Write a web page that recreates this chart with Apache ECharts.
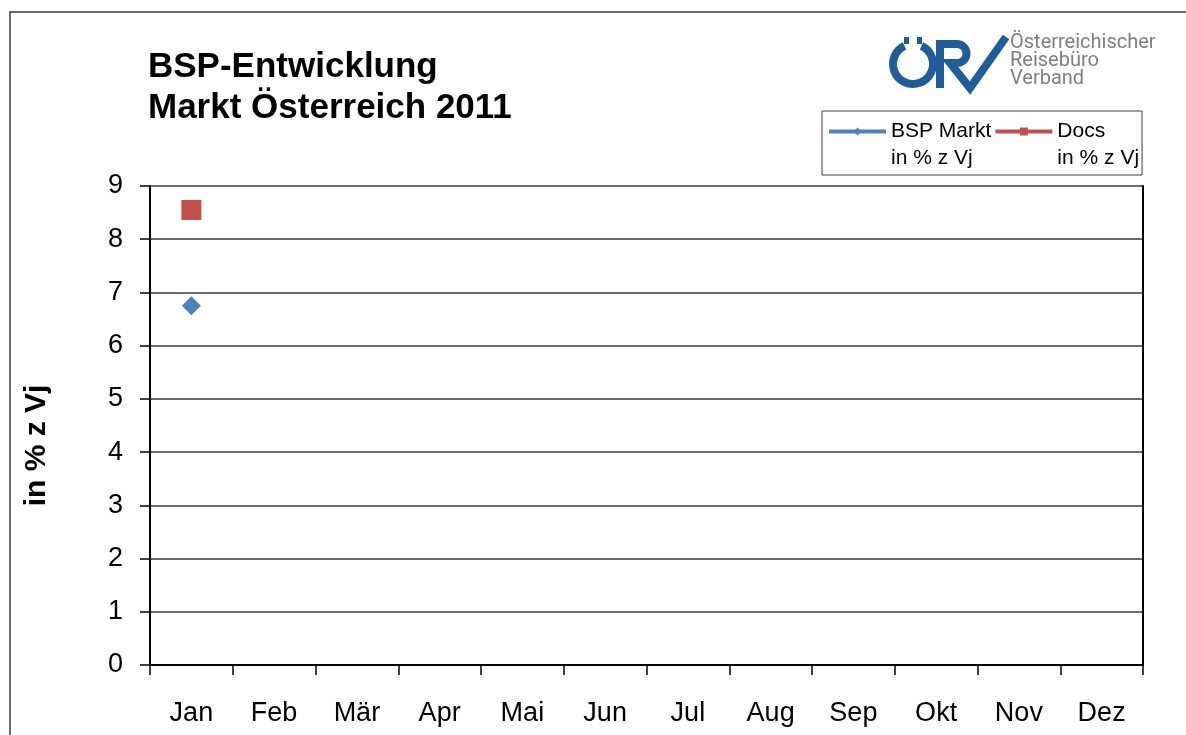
<!DOCTYPE html>
<html>
<head>
<meta charset="utf-8">
<script src="https://cdn.jsdelivr.net/npm/echarts@6/dist/echarts.min.js"></script>
<style>
  html, body {margin: 0; padding: 0; background: #fff;}
  #chart {width: 1186px; height: 735px;}
</style>
</head>
<body>
<div id="chart"></div>
<script>
// data
const months = ['Jan', 'Feb', 'Mär', 'Apr', 'Mai', 'Jun', 'Jul', 'Aug', 'Sep', 'Okt', 'Nov', 'Dez'];
const bspMarkt = [6.75, null, null, null, null, null, null, null, null, null, null, null];
const docs = [8.55, null, null, null, null, null, null, null, null, null, null, null];
const yTicks = [0, 1, 2, 3, 4, 5, 6, 7, 8, 9];

const blue = '#4f81bd';
const red = '#c0504d';
const logoBlue = '#1f5c9a';
const font = 'Liberation Sans, Arial, sans-serif';

const chart = echarts.init(document.getElementById('chart'));

const option = {
    animation: false,
    backgroundColor: '#fff',
    textStyle: {fontFamily: font},
    grid: {left: 150, right: 43, top: 186, bottom: 70},
    legend: {
        left: 822,
        top: 111,
        orient: 'horizontal',
        padding: [-17, 3, 6, 5],
        borderColor: '#404040',
        borderWidth: 1,
        itemWidth: 57,
        itemHeight: 10,
        itemGap: 2,
        lineStyle: {width: 4},
        // empty first row keeps the icon level with the first text row
        formatter: name => '{e| }\n{a|' + name.split('\n').join('}\n{a|') + '}',
        textStyle: {
            color: '#000', fontFamily: font,
            rich: {
                a: {fontSize: 21, lineHeight: 27, color: '#000', fontFamily: font},
                e: {fontSize: 21, lineHeight: 27}
            }
        },
        data: ['BSP Markt\nin % z Vj', 'Docs\nin % z Vj']
    },
    xAxis: {
        type: 'category',
        data: months,
        boundaryGap: true,
        axisLine: {lineStyle: {color: '#000', width: 2}},
        axisTick: {show: true, length: 10, lineStyle: {color: '#000', width: 1.5}},
        axisLabel: {fontSize: 27, color: '#000', margin: 35, fontFamily: font},
        splitLine: {show: false}
    },
    yAxis: [{
        type: 'value',
        min: yTicks[0],
        max: yTicks[yTicks.length - 1],
        interval: 1,
        name: 'in % z Vj',
        nameLocation: 'middle',
        nameGap: 98,
        nameRotate: 90,
        nameTextStyle: {fontSize: 30, fontWeight: 'bold', color: '#000', fontFamily: font, padding: [0, 40, 0, 0]},
        axisLine: {show: true, lineStyle: {color: '#000', width: 2}},
        axisTick: {show: true, length: 10, lineStyle: {color: '#000', width: 1.5}},
        axisLabel: {fontSize: 27, color: '#000', margin: 27, fontFamily: font},
        splitLine: {show: true, lineStyle: {color: '#3a3a3a', width: 1.5}}
    }, {
        type: 'value',
        position: 'right',
        min: yTicks[0],
        max: yTicks[yTicks.length - 1],
        interval: 1,
        axisLine: {show: true, lineStyle: {color: '#000', width: 2}},
        axisTick: {show: false},
        axisLabel: {show: false},
        splitLine: {show: false}
    }],
    series: [{
        name: 'BSP Markt\nin % z Vj',
        type: 'line',
        data: bspMarkt,
        symbol: 'diamond',
        symbolSize: 19,
        showSymbol: true,
        itemStyle: {color: blue},
        lineStyle: {color: blue, width: 3}
    }, {
        name: 'Docs\nin % z Vj',
        type: 'line',
        data: docs,
        symbol: 'rect',
        symbolSize: 20,
        showSymbol: true,
        itemStyle: {color: red},
        lineStyle: {color: red, width: 3}
    }],
    graphic: [
        // outer frame (only top and left visible)
        {type: 'rect', shape: {x: 10, y: 12, width: 1400, height: 900},
            style: {fill: 'none', stroke: '#3a3a3a', lineWidth: 1.5}, silent: true},
        // title
        {type: 'text', x: 148, y: 47,
            style: {text: 'BSP-Entwicklung\nMarkt Österreich 2011', font: 'bold 35px ' + font,
                lineHeight: 41, fill: '#000'}},
        // logo ring with umlaut
        {type: 'arc', shape: {cx: 913, cy: 64, r: 20, startAngle: -Math.PI * 0.36, endAngle: Math.PI * 1.36},
            style: {stroke: logoBlue, lineWidth: 8, fill: 'none'}},
        {type: 'rect', shape: {x: 904, y: 37, width: 5, height: 7}, style: {fill: logoBlue}},
        {type: 'rect', shape: {x: 917, y: 37, width: 5, height: 7}, style: {fill: logoBlue}},
        // R and V
        {type: 'polyline', shape: {points: [[940, 88], [940, 44], [957, 44]]},
            style: {stroke: logoBlue, lineWidth: 8, fill: 'none', lineJoin: 'miter'}},
        {type: 'arc', shape: {cx: 957, cy: 53.5, r: 9.5, startAngle: -Math.PI / 2, endAngle: Math.PI / 2},
            style: {stroke: logoBlue, lineWidth: 8, fill: 'none'}},
        {type: 'polyline', shape: {points: [[957, 63], [950, 63], [970, 88], [1006, 37]]},
            style: {stroke: logoBlue, lineWidth: 8, fill: 'none', lineJoin: 'miter'}},
        {type: 'text', x: 1010, y: 34,
            style: {text: 'Österreichischer\nReisebüro\nVerband', font: '20px Roboto, sans-serif',
                lineHeight: 18, fill: '#808080'}}
    ]
};

chart.setOption(option);
</script>
</body>
</html>
